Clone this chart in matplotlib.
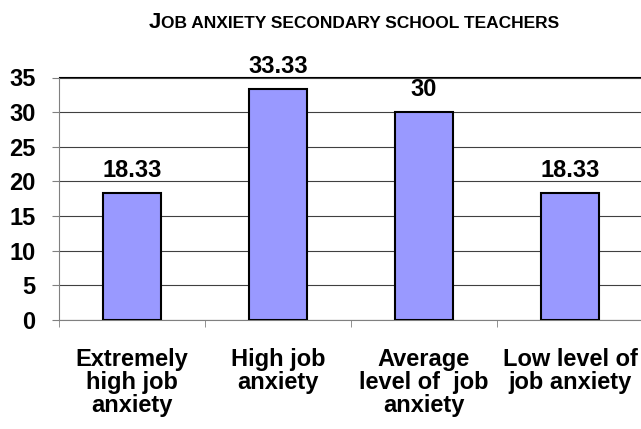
import matplotlib.pyplot as plt

plt.rcParams['font.family'] = ['Liberation Sans', 'DejaVu Sans']
plt.rcParams['font.weight'] = 'bold'

# Datos
categorias = ['Extremely\nhigh job\nanxiety', 'High job\nanxiety',
              'Average\nlevel of  job\nanxiety', 'Low level of\njob anxiety']
valores = [18.33, 33.33, 30, 18.33]
etiquetas = ['18.33', '33.33', '30', '18.33']
yticks = [0, 5, 10, 15, 20, 25, 30, 35]

fig = plt.figure(figsize=(6.41, 4.29), dpi=100)
ax = fig.add_axes([59 / 641, 1 - 320 / 429, 584 / 641, (320 - 77.5) / 429])

x = range(len(valores))
ax.bar(x, valores, width=0.4, color='#9999FF', edgecolor='black', linewidth=1.5, zorder=3)

for xi, v, t in zip(x, valores, etiquetas):
    ax.annotate(t, (xi, v), xytext=(0, 16.5), textcoords='offset points',
                ha='center', va='center', fontsize=17, fontweight='bold')

ax.set_xlim(-0.5, 3.5)
ax.set_ylim(0, 35)
ax.set_yticks(yticks)
ax.set_yticklabels([str(t) for t in yticks], fontsize=17, fontweight='bold')
ax.tick_params(axis='y', length=5, pad=12, color='#808080')

ax.set_xticks(list(x))
ax.set_xticklabels(categorias, fontsize=17, fontweight='bold', linespacing=1.0)
ax.tick_params(axis='x', which='major', length=0, pad=20)
ax.set_xticks([-0.5, 0.5, 1.5, 2.5], minor=True)
ax.tick_params(axis='x', which='minor', length=5, color='#808080')

ax.grid(axis='y', color='#404040', linewidth=0.8, zorder=0)
ax.spines['right'].set_visible(False)
ax.spines['top'].set_color('black')
ax.spines['left'].set_color('#808080')
ax.spines['bottom'].set_color('#808080')

# Título con versalitas
fig.text(161 / 641, 1 - 28 / 429, 'J', ha='right', va='baseline', fontsize=16, fontweight='bold')
fig.text(161 / 641, 1 - 28 / 429, 'OB ANXIETY SECONDARY SCHOOL TEACHERS', ha='left', va='baseline',
         fontsize=12.5, fontweight='bold')

plt.savefig('out.png', dpi=100)
